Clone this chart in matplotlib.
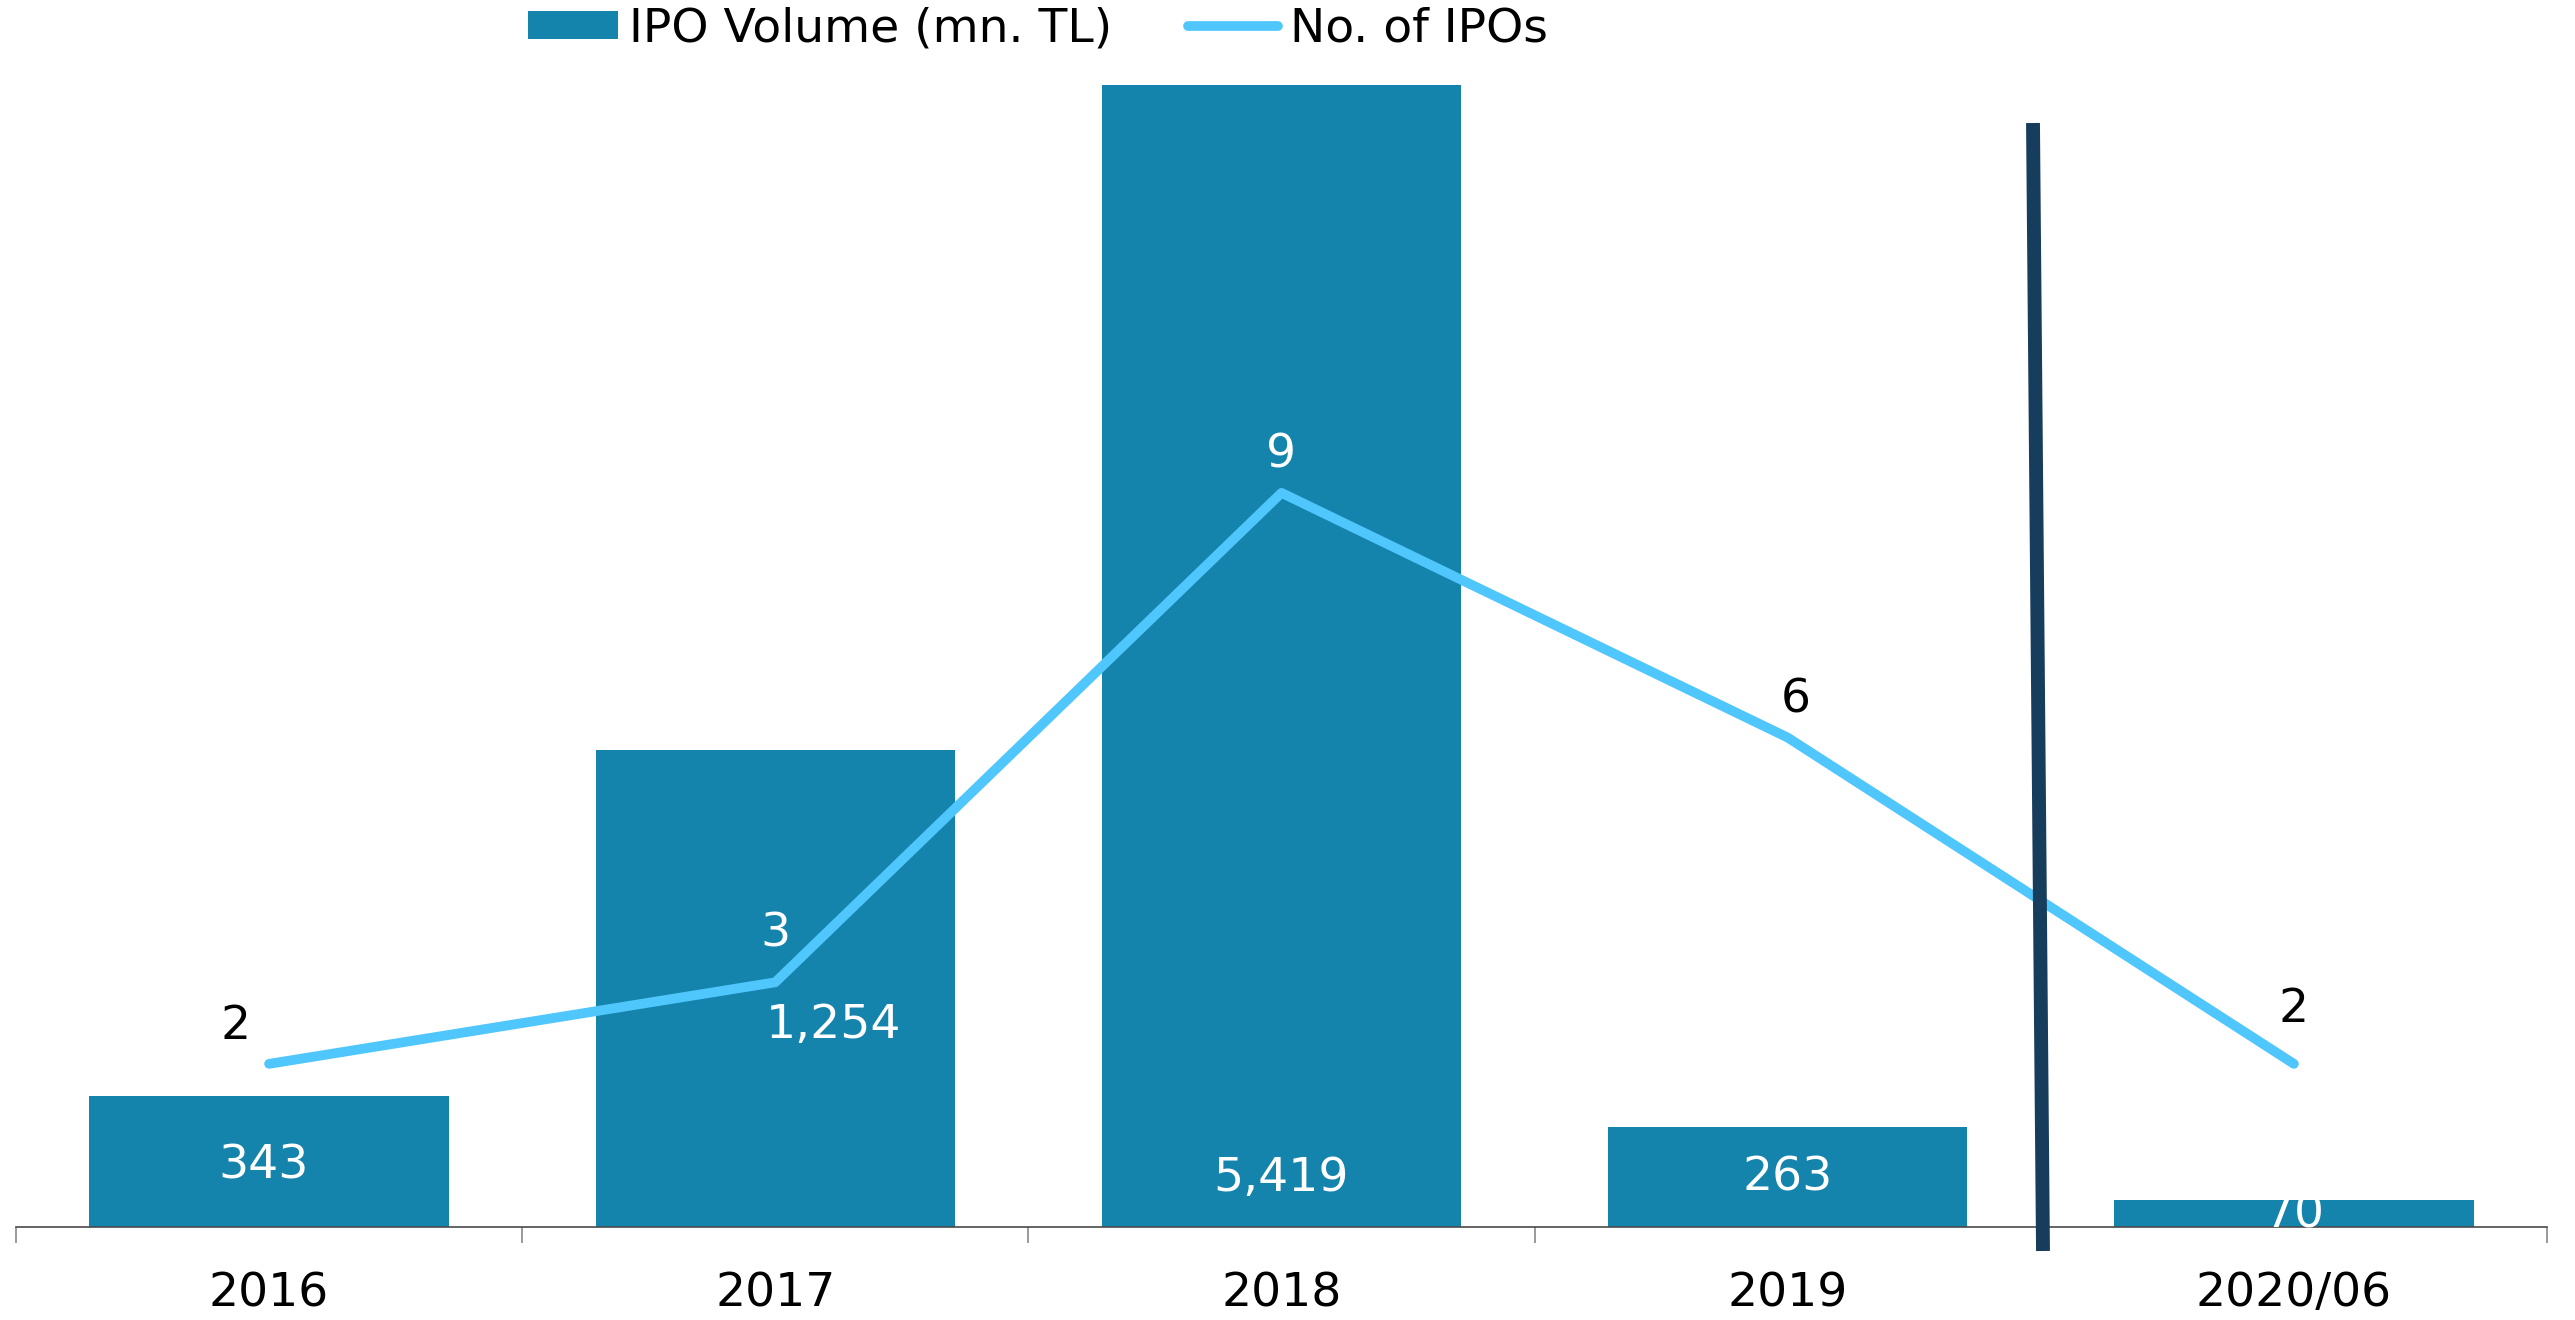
import matplotlib
matplotlib.use("Agg")
import matplotlib.pyplot as plt
from matplotlib.lines import Line2D
from matplotlib.patches import Patch

# data
years = ["2016", "2017", "2018", "2019", "2020/06"]
ipo_volume = [343, 1254, 5419, 263, 70]
ipo_count = [2, 3, 9, 6, 2]
volume_labels = ["343", "1,254", "5,419", "263", "70"]

BAR_COLOR = "#1484ad"
LINE_COLOR = "#4fc6fc"
DIVIDER_COLOR = "#173d5d"
FS = 34

plt.rcParams["font.family"] = ["DejaVu Sans"]

fig = plt.figure(figsize=(25.75, 13.2), dpi=100)
ax = fig.add_axes([16 / 2575, 1 - 1227 / 1320, (2547 - 16) / 2575, (1227 - 85) / 1320])
x = list(range(len(years)))

ax.bar(x, ipo_volume, width=0.71, color=BAR_COLOR, zorder=2)
ax.set_ylim(0, 3000)
ax.set_xlim(-0.5, len(years) - 0.5)

# bar value labels (offsets in points from the baseline)
bar_offsets = [(-4, 44), (42, 145), (0, 35), (0, 35), (0, 9)]
for i, (lab, off) in enumerate(zip(volume_labels, bar_offsets)):
    t = ax.annotate(lab, xy=(i, 0), xytext=off, textcoords="offset points",
                    ha="center", va="center", color="white", fontsize=FS, zorder=5)
    t.set_clip_on(True)

ax2 = ax.twinx()
ax2.set_ylim(0, 14)
ax2.plot(x, ipo_count, color=LINE_COLOR, lw=7, solid_capstyle="round",
         solid_joinstyle="round", zorder=3)

count_offsets = [(-24, 27), (0, 35), (0, 27), (6, 27), (0, 39)]
count_colors = ["black", "white", "white", "black", "black"]
for i, (v, off, c) in enumerate(zip(ipo_count, count_offsets, count_colors)):
    ax2.annotate(str(v), xy=(i, v), xytext=off, textcoords="offset points",
                 ha="center", va="center", color=c, fontsize=FS)

for a in (ax, ax2):
    for side in ("top", "right", "left"):
        a.spines[side].set_visible(False)
    a.set_yticks([])
ax2.spines["bottom"].set_visible(False)
ax.spines["bottom"].set_color("#4a4a4a")
ax.spines["bottom"].set_linewidth(1.2)
ax.spines["bottom"].set_zorder(4)

ax.set_xticks(x)
ax.set_xticklabels(years, fontsize=FS)
ax.tick_params(axis="x", which="major", length=0, pad=32)
ax.set_xticks([i - 0.5 for i in range(len(years) + 1)], minor=True)
ax.tick_params(axis="x", which="minor", length=11.5, width=1.1, color="#7f7f7f", direction="out")

# divider line between annual and half-year data
fig.add_artist(Line2D([2033 / 2575, 2043 / 2575], [1 - 123 / 1320, 1 - 1251 / 1320],
                      transform=fig.transFigure, color=DIVIDER_COLOR, lw=10,
                      solid_capstyle="butt", zorder=10))

handles = [Patch(facecolor=BAR_COLOR, edgecolor="none"),
           Line2D([0], [0], color=LINE_COLOR, lw=7, solid_capstyle="round")]
fig.legend(handles, ["IPO Volume (mn. TL)", "No. of IPOs"], loc="center",
           bbox_to_anchor=(0.403, 0.978), ncol=2, frameon=False, fontsize=FS,
           handlelength=1.9, handleheight=0.52, handletextpad=0.25,
           columnspacing=1.6, borderaxespad=0, borderpad=0)

fig.savefig("out.png", dpi=100)
